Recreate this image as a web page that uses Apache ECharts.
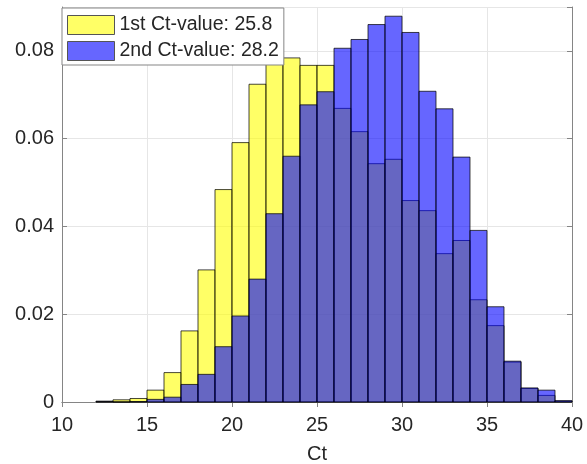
<!DOCTYPE html>
<html>
<head>
<meta charset="utf-8">
<script src="https://cdn.jsdelivr.net/npm/echarts@6/dist/echarts.min.js"></script>
<style>
  html, body { margin: 0; padding: 0; background: #fff; }
  #chart { width: 587px; height: 464px; }
</style>
</head>
<body>
<div id="chart"></div>
<script>
// Histogram bin edges: unit-wide bins from 12 to 40
var binStarts = [12, 13, 14, 15, 16, 17, 18, 19, 20, 21, 22, 23, 24, 25,
                 26, 27, 28, 29, 30, 31, 32, 33, 34, 35, 36, 37, 38, 39];

// Normalised counts (probability per bin)
var firstCt = [0.0002, 0.0005, 0.0008, 0.0027, 0.0067, 0.0162, 0.0301, 0.0484,
               0.0591, 0.0724, 0.0780, 0.0784, 0.0767, 0.0767, 0.0669, 0.0616,
               0.0543, 0.0553, 0.0459, 0.0436, 0.0338, 0.0368, 0.0233, 0.0174,
               0.0091, 0.0031, 0.0015, 0.0002];
var secondCt = [0.0001, 0.0000, 0.0001, 0.0006, 0.0011, 0.0040, 0.0063, 0.0126,
                0.0196, 0.0280, 0.0429, 0.0560, 0.0677, 0.0707, 0.0806, 0.0826,
                0.0860, 0.0879, 0.0842, 0.0708, 0.0668, 0.0558, 0.0391, 0.0217,
                0.0093, 0.0032, 0.0027, 0.0003];

var seriesNames = ['1st Ct-value: 25.8', '2nd Ct-value: 28.2'];
var xTicks = { min: 10, max: 40, step: 5 };
var yTicks = { min: 0, max: 0.09, step: 0.02 };
var xName = 'Ct';

var yellowFill = 'rgba(255,255,0,0.6)';
var blueFill = 'rgba(0,0,255,0.6)';
var edge = 'rgba(0,0,0,0.72)';
var textColor = '#262626';
var axisColor = '#858585';
var font = 'Liberation Sans, Arial, Helvetica, sans-serif';

function binData(values) {
  return binStarts.map(function (s, i) { return [s, s + 1, values[i]]; });
}

function makeRender(fill) {
  return function (params, api) {
    var x0 = api.value(0), x1 = api.value(1), y = api.value(2);
    var topLeft = api.coord([x0, y]);
    var bottomRight = api.coord([x1, 0]);
    return {
      type: 'rect',
      shape: {
        x: topLeft[0],
        y: topLeft[1],
        width: bottomRight[0] - topLeft[0],
        height: bottomRight[1] - topLeft[1]
      },
      style: { fill: fill, stroke: edge, lineWidth: 1 }
    };
  };
}

var chart = echarts.init(document.getElementById('chart'), null, { renderer: 'canvas' });

var boxAxis = {
  show: true,
  lineStyle: { color: axisColor, width: 1 }
};
var inwardTicks = {
  show: true,
  inside: true,
  length: 5,
  lineStyle: { color: axisColor, width: 1 }
};

chart.setOption({
  animation: false,
  backgroundColor: '#ffffff',
  grid: {
    left: 62, right: 15, top: 7, bottom: 62,
    containLabel: false,
    outerBoundsMode: 'none'
  },
  legend: {
    left: 62,
    top: 8,
    orient: 'vertical',
    itemWidth: 47,
    itemHeight: 19,
    itemGap: 6,
    padding: [7, 5, 4, 5],
    backgroundColor: '#ffffff',
    borderColor: axisColor,
    borderWidth: 1,
    borderRadius: 0,
    textStyle: { fontSize: 19.5, color: textColor, fontFamily: font },
    data: [
      { name: seriesNames[0], icon: 'rect',
        itemStyle: { color: 'rgb(255,255,102)', borderColor: '#555', borderWidth: 1 } },
      { name: seriesNames[1], icon: 'rect',
        itemStyle: { color: 'rgb(102,102,255)', borderColor: '#555', borderWidth: 1 } }
    ]
  },
  xAxis: [
    {
      type: 'value',
      position: 'bottom',
      min: xTicks.min, max: xTicks.max, interval: xTicks.step,
      name: xName,
      nameLocation: 'middle',
      nameGap: 42,
      nameTextStyle: { fontSize: 20, color: textColor, fontFamily: font },
      axisLine: boxAxis,
      axisTick: inwardTicks,
      axisLabel: { margin: 13, fontSize: 20, color: textColor, fontFamily: font },
      splitLine: { show: true, lineStyle: { color: '#e6e6e6', width: 1 } }
    },
    {
      type: 'value',
      position: 'top',
      min: xTicks.min, max: xTicks.max, interval: xTicks.step,
      axisLine: boxAxis,
      axisTick: inwardTicks,
      axisLabel: { show: false },
      splitLine: { show: false }
    }
  ],
  yAxis: [
    {
      type: 'value',
      position: 'left',
      min: yTicks.min, max: yTicks.max, interval: yTicks.step,
      axisLine: boxAxis,
      axisTick: inwardTicks,
      axisLabel: {
        margin: 8, fontSize: 20, color: textColor, fontFamily: font,
        showMaxLabel: false,
        formatter: function (v) { return v === 0 ? '0' : v.toFixed(2); }
      },
      splitLine: { show: true, lineStyle: { color: '#e6e6e6', width: 1 } }
    },
    {
      type: 'value',
      position: 'right',
      min: yTicks.min, max: yTicks.max, interval: yTicks.step,
      axisLine: boxAxis,
      axisTick: inwardTicks,
      axisLabel: { show: false },
      splitLine: { show: false }
    }
  ],
  series: [
    {
      name: seriesNames[0],
      type: 'custom',
      xAxisIndex: 0, yAxisIndex: 0,
      renderItem: makeRender(yellowFill),
      itemStyle: { color: 'rgb(255,255,102)' },
      encode: { x: [0, 1], y: 2 },
      data: binData(firstCt),
      z: 2
    },
    {
      name: seriesNames[1],
      type: 'custom',
      xAxisIndex: 0, yAxisIndex: 0,
      renderItem: makeRender(blueFill),
      itemStyle: { color: 'rgb(102,102,255)' },
      encode: { x: [0, 1], y: 2 },
      data: binData(secondCt),
      z: 3
    }
  ]
});
</script>
</body>
</html>
